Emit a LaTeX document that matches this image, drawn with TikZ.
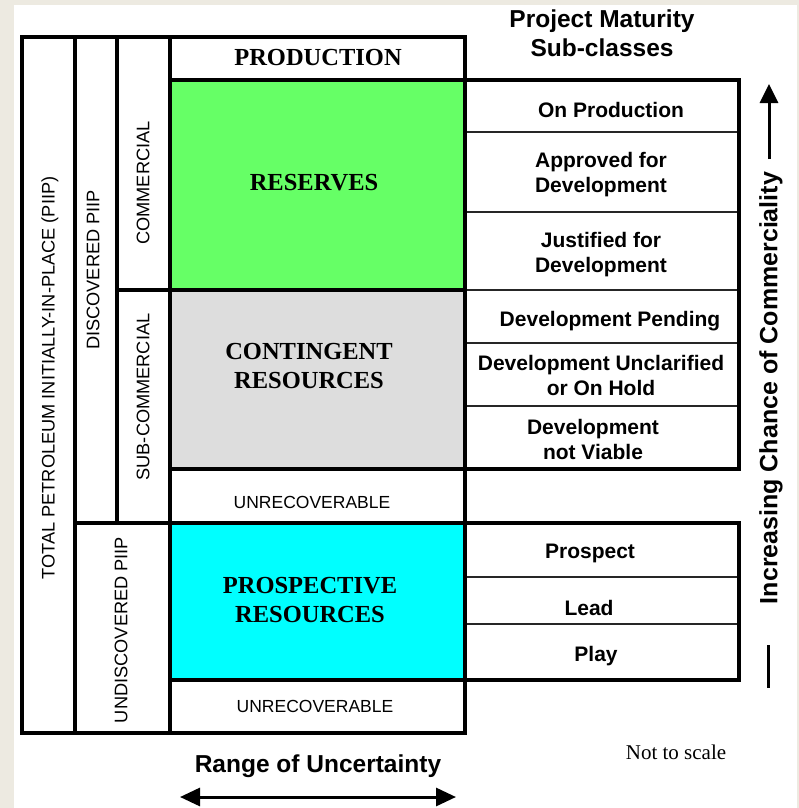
\documentclass[tikz,border=0pt]{standalone}
\usepackage{fontspec}
\setmainfont{Liberation Serif}
\setsansfont{Liberation Sans}
\usetikzlibrary{arrows.meta}
\definecolor{bgbeige}{HTML}{EDEAE1}
\definecolor{resgreen}{HTML}{66FF66}
\definecolor{contgray}{HTML}{DDDDDD}
\definecolor{prospcyan}{HTML}{00FFFF}
\begin{document}
\begin{tikzpicture}[x=1pt,y=-1pt,
  thickline/.style={line width=4pt, line cap=rect, line join=miter},
  thinline/.style={line width=1.1pt, draw=black!85},
  bigserif/.style={font=\fontsize{24.5}{29}\selectfont\bfseries, align=center, inner sep=0pt},
  subcls/.style={font=\sffamily\fontsize{21}{25}\selectfont\bfseries, align=center, inner sep=0pt},
  sidelbl/.style={font=\sffamily\fontsize{18.2}{21}\selectfont, rotate=90, inner sep=0pt},
  unrec/.style={font=\sffamily\fontsize{17.5}{21}\selectfont, inner sep=0pt},
  heading/.style={font=\sffamily\fontsize{24.5}{29}\selectfont\bfseries, align=center, inner sep=0pt},
  arrowline/.style={line width=3pt}
]
\useasboundingbox (0,0) rectangle (799,808);
\fill[bgbeige] (0,0) rectangle (799,808);
\fill[white] (14,5) rectangle (797,808);

% fills
\fill[resgreen] (170,80) rectangle (465,290);
\fill[contgray] (170,290) rectangle (465,469);
\fill[prospcyan] (170,523) rectangle (465,680);

% thin lines in sub-class tables
\foreach \yy in {132,212,290,343,406,577,624}
  \draw[thinline] (465,\yy) -- (739,\yy);

% thick frame lines
\draw[thickline] (22,37) rectangle (465,733);
\draw[thickline] (75,37) -- (75,733);
\draw[thickline] (117,37) -- (117,523);
\draw[thickline] (170,37) -- (170,733);
\draw[thickline] (117,290) -- (465,290);
\draw[thickline] (170,80) -- (465,80);
\draw[thickline] (170,469) -- (465,469);
\draw[thickline] (75,523) -- (465,523);
\draw[thickline] (170,680) -- (465,680);
\draw[thickline] (465,80) rectangle (739,469);
\draw[thickline] (465,523) rectangle (739,680);

% main class labels
\node[bigserif] (prod) at (318,58) {PRODUCTION};
\node[bigserif] (res) at (314,183) {RESERVES};
\node[bigserif] (cont) at (309,366) {CONTINGENT\\RESOURCES};
\node[unrec] (unrec1) at (312,502) {UNRECOVERABLE};
\node[bigserif] (prosp) at (310,600) {PROSPECTIVE\\RESOURCES};
\node[unrec] (unrec2) at (315,706) {UNRECOVERABLE};

% side labels
\node[sidelbl] (total) at (50,378) {TOTAL PETROLEUM INITIALLY-IN-PLACE (PIIP)};
\node[sidelbl] (disc) at (93,270) {DISCOVERED PIIP};
\node[sidelbl] (comm) at (143,183) {COMMERCIAL};
\node[sidelbl] (subcomm) at (143,397) {SUB-COMMERCIAL};
\node[sidelbl] (undisc) at (121,630) {UNDISCOVERED PIIP};

% sub-class labels
\node[heading] (pm) at (602,33) {Project Maturity\\Sub-classes};
\node[subcls] (onp) at (611,110) {On Production};
\node[subcls] (appr) at (601,175) {Approved for\\Development};
\node[subcls] (just) at (601,255) {Justified for\\Development};
\node[subcls] (pend) at (610,321) {Development Pending};
\node[subcls] (uncl) at (601,375) {Development Unclarified\\or On Hold};
\node[subcls] (nv) at (593,439) {Development\\not Viable};
\node[subcls] (prospect) at (590,553) {Prospect};
\node[subcls] (lead) at (589,608) {Lead};
\node[subcls] (play) at (596,656) {Play};

% commerciality axis
\node[heading, font=\sffamily\fontsize{25}{29}\selectfont\bfseries, rotate=90] (icc) at (771,388) {Increasing Chance of Commerciality};
\coordinate (upTail) at (769,159);
\coordinate (upHead) at (769,84);
\draw[arrowline, -{Triangle[length=19pt,width=18pt]}] (upTail) -- (upHead);
\coordinate (barTop) at (768,645);
\coordinate (barBot) at (768,688);
\draw[arrowline] (barTop) -- (barBot);

% uncertainty axis
\node[heading] (rou) at (318,766) {Range of Uncertainty};
\coordinate (leftEnd) at (180,797);
\coordinate (rightEnd) at (456,797);
\draw[arrowline, {Triangle[length=20pt,width=18pt]}-{Triangle[length=20pt,width=18pt]}] (leftEnd) -- (rightEnd);

\node[font=\fontsize{21}{25}\selectfont, inner sep=0pt] (nts) at (676,752) {Not to scale};
\end{tikzpicture}
\end{document}
